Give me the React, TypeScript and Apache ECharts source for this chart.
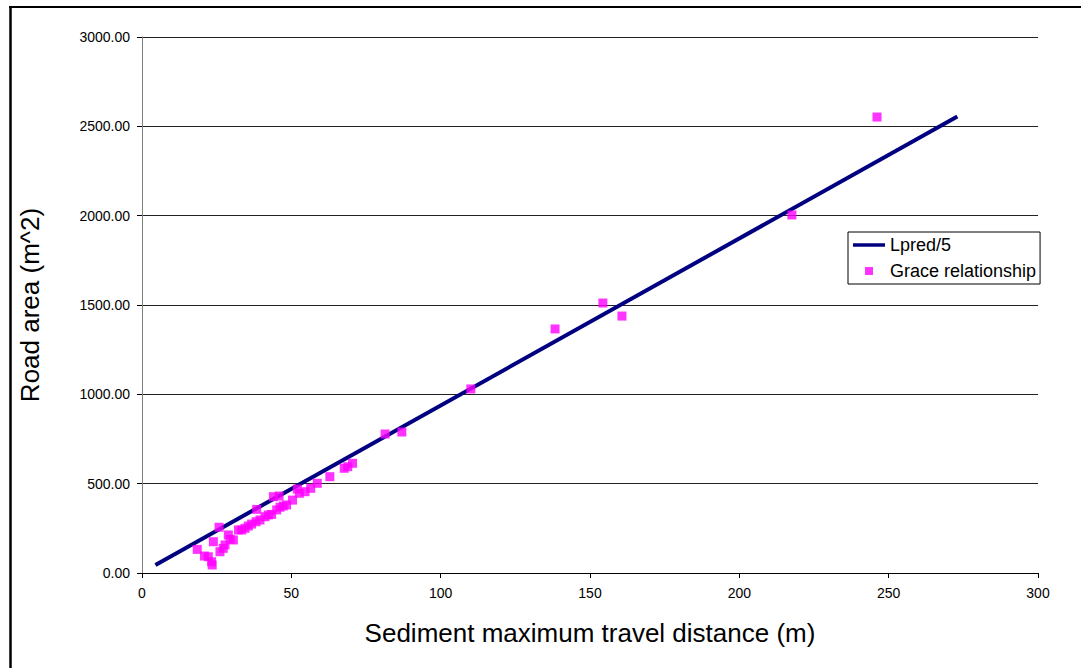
import React, { useEffect, useRef } from "react";
import * as echarts from "echarts";

const lineX = [4.5, 273];
const lineY = [45, 2555];

const graceX = [18.5, 20.9, 22.2, 23.5, 23.3, 23.9, 25.8, 26.1, 27.2, 27.8, 28.9, 29.5, 30.6, 32.3, 33.4, 34.5, 35.6, 36.7, 38.4, 38.2, 39.5, 41.2, 42.3, 43.4, 44.0, 45.9, 45.1, 46.2, 47.3, 48.4, 50.4, 52.0, 52.7, 54.6, 56.5, 58.7, 62.9, 67.7, 68.9, 70.5, 81.4, 87.0, 110.1, 138.3, 154.3, 160.7, 217.6, 246.1];
const graceY = [132, 95, 91, 45, 63, 175, 256, 119, 138, 157, 213, 189, 185, 241, 241, 250, 263, 274, 356, 287, 297, 315, 325, 328, 427, 431, 353, 368, 375, 381, 408, 470, 446, 455, 474, 502, 539, 586, 595, 614, 778, 789, 1030, 1366, 1511, 1438, 2004, 2552];

const xTicks = [0, 50, 100, 150, 200, 250, 300];
const yTicks = [0, 500, 1000, 1500, 2000, 2500, 3000];

const FONT = "'Liberation Sans', Arial, sans-serif";

export default function App() {
  const ref = useRef<HTMLDivElement>(null);
  useEffect(() => {
    if (!ref.current) return;
    const chart = echarts.init(ref.current, undefined, { renderer: "svg" });
    chart.setOption({
      animation: false,
      backgroundColor: "#fff",
      textStyle: { fontFamily: FONT },
      grid: { left: 142, right: 43, top: 37, bottom: 95 },
      graphic: [
        { type: "line", shape: { x1: 10.5, y1: 6, x2: 10.5, y2: 668 }, style: { stroke: "#000", lineWidth: 2.5 } },
        { type: "line", shape: { x1: 9, y1: 7, x2: 1081, y2: 7 }, style: { stroke: "#000", lineWidth: 2 } },
      ],
      legend: {
        orient: "vertical",
        left: 848,
        top: 232,
        padding: [4, 4, 4, 5],
        itemGap: 8,
        itemWidth: 32,
        itemHeight: 8,
        symbolKeepAspect: true,
        borderColor: "#000",
        borderWidth: 1,
        borderRadius: 0,
        textStyle: { fontSize: 18, color: "#000", fontFamily: FONT },
        data: [
          { name: "Lpred/5", icon: "path://M0,0H32V3.5H0Z" },
          { name: "Grace relationship", icon: "path://M0,0H1V1H0Z" },
        ],
      },
      xAxis: {
        type: "value",
        min: 0,
        max: 300,
        interval: 50,
        name: "Sediment maximum travel distance (m)",
        nameLocation: "middle",
        nameGap: 47,
        nameTextStyle: { fontSize: 26, color: "#000", fontFamily: FONT },
        axisLine: { show: true, lineStyle: { color: "#000", width: 1 } },
        axisTick: { show: true, inside: false, length: 5, lineStyle: { color: "#000" } },
        axisLabel: { fontSize: 14, color: "#000", margin: 13, fontFamily: FONT, formatter: (v: number) => (xTicks.includes(v) ? String(v) : "") },
        splitLine: { show: false },
      },
      yAxis: {
        type: "value",
        min: 0,
        max: 3000,
        interval: 500,
        name: "Road area (m^2)",
        nameLocation: "middle",
        nameGap: 99,
        nameRotate: 90,
        nameTextStyle: { fontSize: 26, color: "#000", fontFamily: FONT },
        axisLine: { show: true, lineStyle: { color: "#808080", width: 1 } },
        axisTick: { show: true, inside: false, length: 5, lineStyle: { color: "#000" } },
        axisLabel: { fontSize: 14, color: "#000", margin: 12, fontFamily: FONT, formatter: (v: number) => (yTicks.includes(v) ? v.toFixed(2) : "") },
        splitLine: { show: true, lineStyle: { color: "#222", width: 1 } },
      },
      series: [
        {
          name: "Lpred/5",
          type: "line",
          data: lineX.map((x, i) => [x, lineY[i]]),
          symbol: "none",
          lineStyle: { color: "#000080", width: 4 },
          itemStyle: { color: "#000080" },
          z: 2,
        },
        {
          name: "Grace relationship",
          type: "scatter",
          data: graceX.map((x, i) => [x, graceY[i]]),
          symbol: "rect",
          symbolSize: 9,
          itemStyle: { color: "#FF00FF" },
          z: 3,
        },
      ],
    });
    return () => chart.dispose();
  }, []);
  return <div ref={ref} style={{ position: "fixed", left: 0, top: 0, width: 1081, height: 668 }} />;
}
